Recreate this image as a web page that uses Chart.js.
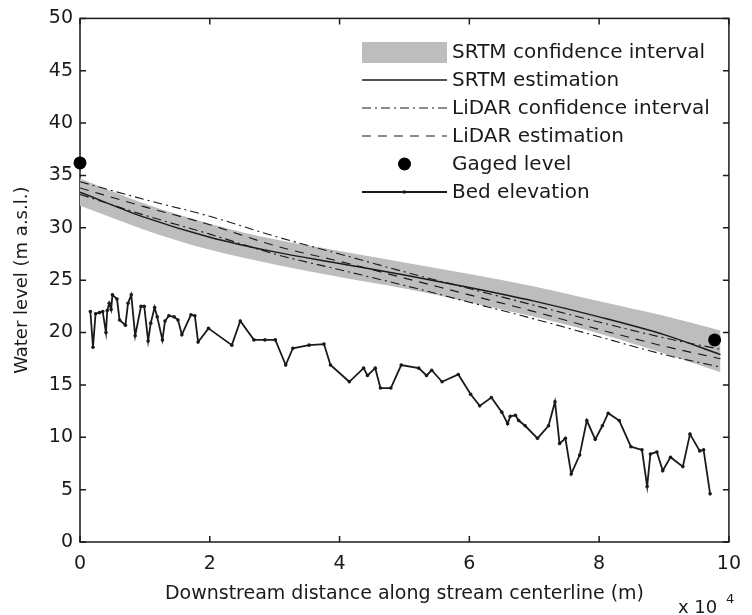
<!DOCTYPE html>
<html>
<head>
<meta charset="utf-8">
<script src="https://cdn.jsdelivr.net/npm/chart.js@4.4.1/dist/chart.umd.min.js"></script>
<style>
  html, body { margin: 0; padding: 0; background: #fff; }
  #wrap { width: 752px; height: 615px; }
</style>
</head>
<body>
<div id="wrap"><canvas id="levels" width="752" height="615"></canvas></div>
<script>
// distances are in units of 10^4 m
const curveX = [0, 1, 2, 3, 4, 5, 6, 7, 8, 9, 9.87];
const srtmUpper = [34.7, 32.3, 30.4, 28.9, 27.8, 26.7, 25.6, 24.4, 23.0, 21.6, 20.2];
const srtmEst = [33.4, 31.0, 29.1, 27.7, 26.6, 25.5, 24.3, 23.0, 21.5, 19.8, 17.9];
const srtmLower = [32.1, 29.8, 27.9, 26.5, 25.3, 24.2, 22.9, 21.5, 19.9, 18.0, 16.2];
const lidarUpper = [34.4, 32.7, 31.1, 29.2, 27.5, 25.8, 24.2, 22.6, 21.0, 19.5, 18.4];
const lidarEst = [33.8, 32.0, 30.3, 28.3, 26.8, 25.2, 23.6, 22.0, 20.3, 18.7, 17.5];
const lidarLower = [33.2, 31.2, 29.4, 27.5, 26.0, 24.5, 22.9, 21.3, 19.6, 17.9, 16.7];

const gagedX = [0, 9.78];
const gagedY = [36.2, 19.3];

const bedX = [0.16, 0.20, 0.24, 0.30, 0.35, 0.40, 0.42, 0.45, 0.48, 0.50, 0.57, 0.61, 0.70, 0.74,
  0.79, 0.85, 0.94, 0.99, 1.05, 1.09, 1.15, 1.19, 1.27, 1.31, 1.37, 1.45, 1.51, 1.57, 1.71, 1.77,
  1.82, 1.98, 2.34, 2.47, 2.68, 2.85, 3.01, 3.17, 3.28, 3.53, 3.76, 3.86, 4.15, 4.37, 4.43, 4.55,
  4.63, 4.79, 4.95, 5.22, 5.34, 5.42, 5.58, 5.83, 6.02, 6.16, 6.34, 6.50, 6.59, 6.63, 6.71, 6.76,
  6.86, 7.05, 7.22, 7.32, 7.39, 7.48, 7.57, 7.70, 7.81, 7.94, 8.05, 8.14, 8.31, 8.49, 8.66, 8.74,
  8.79, 8.89, 8.98, 9.10, 9.29, 9.40, 9.55, 9.61, 9.71];
const bedY = [22.0, 18.6, 21.8, 21.9, 22.0, 20.0, 22.1, 22.8, 22.2, 23.6, 23.2, 21.2, 20.7, 22.8,
  23.6, 19.7, 22.5, 22.5, 19.2, 20.9, 22.4, 21.5, 19.3, 21.1, 21.6, 21.5, 21.2, 19.8, 21.7, 21.6,
  19.1, 20.4, 18.8, 21.1, 19.3, 19.3, 19.3, 16.9, 18.5, 18.8, 18.9, 16.9, 15.3, 16.6, 15.9, 16.6,
  14.7, 14.7, 16.9, 16.6, 15.9, 16.4, 15.3, 16.0, 14.1, 13.0, 13.8, 12.4, 11.3, 12.0, 12.1, 11.6,
  11.1, 9.9, 11.1, 13.4, 9.4, 9.9, 6.5, 8.3, 11.6, 9.8, 11.1, 12.3, 11.6, 9.1, 8.8, 5.3,
  8.4, 8.6, 6.8, 8.1, 7.2, 10.3, 8.7, 8.8, 4.6];

const xTicks = [0, 2, 4, 6, 8, 10];
const yTicks = [0, 5, 10, 15, 20, 25, 30, 35, 40, 45, 50];

const FONT = 'DejaVu Sans';
const INK = '#1a1a1a';
const BAND = '#bdbdbd';
const DASH = [9, 7];
const DASH_DOT = [9, 4, 2, 4];

const pts = (xs, ys) => xs.map((v, i) => ({ x: v, y: ys[i] }));

const curve = (data, extra) => Object.assign({
  data: data,
  borderColor: INK,
  borderWidth: 1.1,
  pointRadius: 0,
  cubicInterpolationMode: 'monotone',
  fill: false,
  order: 2,
}, extra);

// box around the plot with inward ticks on all four sides
const frame = {
  id: 'frame',
  beforeDatasetsDraw(chart) {
    const { ctx, chartArea: a, scales: { x, y } } = chart;
    ctx.save();
    ctx.strokeStyle = INK;
    ctx.lineWidth = 1.5;
    ctx.strokeRect(a.left, a.top, a.right - a.left, a.bottom - a.top);
    ctx.beginPath();
    x.ticks.forEach(t => {
      const px = x.getPixelForValue(t.value);
      ctx.moveTo(px, a.bottom); ctx.lineTo(px, a.bottom - 6);
      ctx.moveTo(px, a.top); ctx.lineTo(px, a.top + 6);
    });
    y.ticks.forEach(t => {
      const py = y.getPixelForValue(t.value);
      ctx.moveTo(a.left, py); ctx.lineTo(a.left + 6, py);
      ctx.moveTo(a.right, py); ctx.lineTo(a.right - 6, py);
    });
    ctx.stroke();
    ctx.restore();
  },
  afterDraw(chart) {
    const { ctx, chartArea: a } = chart;
    ctx.save();
    ctx.fillStyle = INK;
    ctx.textBaseline = 'alphabetic';
    ctx.textAlign = 'left';
    ctx.font = `18px ${FONT}`;
    ctx.fillText('x 10', a.right - 51, 613);
    ctx.font = `13px ${FONT}`;
    ctx.fillText('4', a.right - 3, 603);
    ctx.restore();
  }
};

// legend in the upper right corner of the plot
const legendBox = {
  id: 'legendBox',
  afterDraw(chart) {
    const { ctx } = chart;
    const ds = chart.data.datasets;
    const x0 = 362, x1 = 447, tx = 452, top = 52, step = 28;
    const seg = (d, yc) => {
      ctx.save();
      ctx.strokeStyle = d.borderColor;
      ctx.lineWidth = d.borderWidth;
      ctx.setLineDash(d.borderDash || []);
      ctx.beginPath();
      ctx.moveTo(x0, yc); ctx.lineTo(x1, yc);
      ctx.stroke();
      ctx.restore();
    };
    const entries = [
      ['SRTM confidence interval', yc => {
        ctx.fillStyle = ds[0].backgroundColor;
        ctx.fillRect(x0, yc - 10, x1 - x0, 21);
      }],
      ['SRTM estimation', yc => seg(ds[2], yc)],
      ['LiDAR confidence interval', yc => seg(ds[3], yc)],
      ['LiDAR estimation', yc => seg(ds[5], yc)],
      ['Gaged level', yc => {
        ctx.fillStyle = ds[7].backgroundColor;
        ctx.beginPath();
        ctx.arc((x0 + x1) / 2, yc, ds[7].pointRadius, 0, Math.PI * 2);
        ctx.fill();
      }],
      ['Bed elevation', yc => {
        seg(ds[6], yc);
        ctx.fillStyle = INK;
        ctx.beginPath();
        ctx.arc((x0 + x1) / 2, yc, 1.8, 0, Math.PI * 2);
        ctx.fill();
      }],
    ];
    ctx.save();
    ctx.font = `20px ${FONT}`;
    ctx.textBaseline = 'middle';
    entries.forEach(([label, mark], i) => {
      const yc = top + i * step;
      mark(yc);
      ctx.fillStyle = INK;
      ctx.fillText(label, tx, yc + 1);
    });
    ctx.restore();
  }
};

new Chart(document.getElementById('levels'), {
  type: 'line',
  data: {
    datasets: [
      curve(pts(curveX, srtmUpper), { borderWidth: 0, borderColor: BAND, backgroundColor: BAND, fill: '+1', order: 5 }),
      curve(pts(curveX, srtmLower), { borderWidth: 0, borderColor: BAND, order: 6 }),
      curve(pts(curveX, srtmEst), { borderWidth: 1.4 }),
      curve(pts(curveX, lidarUpper), { borderDash: DASH_DOT }),
      curve(pts(curveX, lidarLower), { borderDash: DASH_DOT }),
      curve(pts(curveX, lidarEst), { borderDash: DASH }),
      {
        data: pts(bedX, bedY),
        borderColor: INK,
        backgroundColor: INK,
        borderWidth: 1.8,
        pointRadius: 1.8,
        pointBorderWidth: 0,
        tension: 0,
        clip: false,
        order: 1,
      },
      {
        data: pts(gagedX, gagedY),
        showLine: false,
        backgroundColor: '#000',
        borderColor: '#000',
        pointRadius: 6.5,
        pointBorderWidth: 0,
        clip: false,
        order: 0,
      },
    ],
  },
  options: {
    responsive: false,
    animation: false,
    devicePixelRatio: 1,
    layout: { padding: { top: 18, right: 16, bottom: 0, left: 0 } },
    plugins: { legend: { display: false }, tooltip: { enabled: false } },
    scales: {
      x: {
        type: 'linear',
        min: 0,
        max: 10,
        afterBuildTicks: s => { s.ticks = xTicks.map(v => ({ value: v })); },
        grid: { display: false, drawTicks: false },
        border: { display: false },
        ticks: { color: INK, font: { family: FONT, size: 19 }, padding: 11, maxRotation: 0 },
        title: {
          display: true,
          text: 'Downstream distance along stream centerline (m)',
          color: INK,
          font: { family: FONT, size: 19 },
          padding: { top: 0, bottom: 10 },
        },
        afterFit: s => { s.height = 73; },
      },
      y: {
        min: 0,
        max: 50,
        afterBuildTicks: s => { s.ticks = yTicks.map(v => ({ value: v })); },
        grid: { display: false, drawTicks: false },
        border: { display: false },
        ticks: { color: INK, font: { family: FONT, size: 19 }, padding: 7 },
        title: {
          display: true,
          text: 'Water level (m a.s.l.)',
          color: INK,
          font: { family: FONT, size: 18 },
          padding: { top: 12, bottom: 0 },
        },
        afterFit: s => { s.width = 80; },
      },
    },
  },
  plugins: [frame, legendBox],
});
</script>
</body>
</html>
